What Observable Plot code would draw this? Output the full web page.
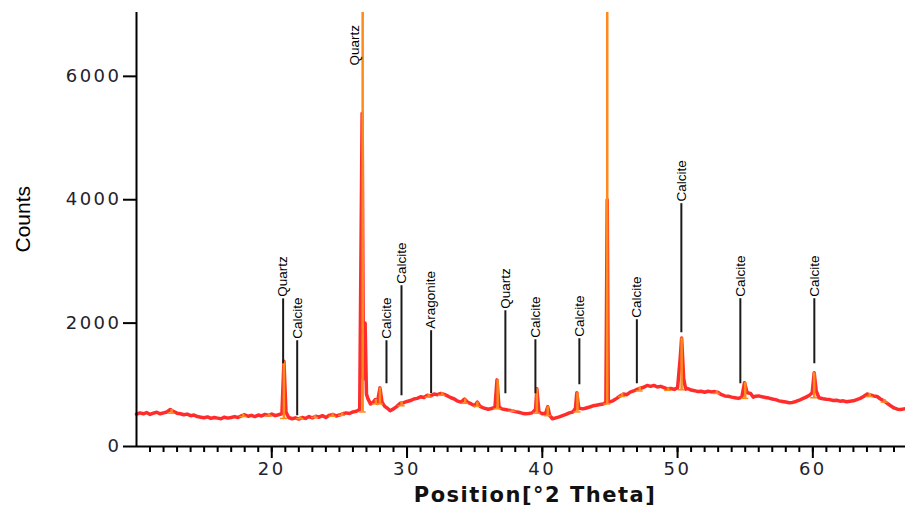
<!DOCTYPE html>
<html><head><meta charset="utf-8">
<script src="https://cdn.jsdelivr.net/npm/d3@7"></script>
<script src="https://cdn.jsdelivr.net/npm/@observablehq/plot@0.6"></script>
<style>html,body{margin:0;padding:0;background:#fff;} #chart{width:905px;height:514px;}</style>
</head><body><div id="chart"></div>
<script>
// Measured scan: [2θ, counts]
const scan = [
[10,525],[10.25,545],[10.5,530],[10.75,550],[11,520],[11.25,540],[11.5,555],[11.75,530],[12,545],[12.25,560],
[12.5,600],[12.75,565],[13,540],[13.25,530],[13.5,515],[13.75,525],[14,500],[14.25,510],[14.5,485],[14.75,475],
[15,465],[15.25,480],[15.5,455],[15.75,470],[16,460],[16.25,450],[16.5,475],[16.75,460],[17,470],[17.25,485],
[17.5,470],[17.75,495],[18,515],[18.25,490],[18.5,505],[18.75,485],[19,510],[19.25,495],[19.5,520],[19.75,505],
[20,525],[20.25,500],[20.5,515],[20.75,530],[20.9,1380],[21.05,560],[21.25,470],[21.5,450],[21.75,465],[22,445],
[22.25,470],[22.5,455],[22.75,485],[23,465],[23.25,490],[23.5,475],[23.75,500],[24,470],[24.25,505],[24.5,520],
[24.75,495],[25,510],[25.25,530],[25.5,545],[25.75,535],[26,560],[26.25,570],[26.5,600],[26.68,5400],[26.78,1100],
[26.9,2000],[27,850],[27.1,780],[27.3,690],[27.5,720],[27.65,760],[27.8,700],[28,950],[28.15,720],[28.35,650],
[28.55,620],[28.75,580],[29,610],[29.25,650],[29.5,700],[29.75,710],[30,730],[30.25,745],[30.5,770],[30.75,780],
[31,805],[31.25,795],[31.5,830],[31.75,820],[32,850],[32.25,840],[32.5,860],[32.75,845],[33,820],[33.25,790],
[33.5,770],[33.75,735],[34,720],[34.25,770],[34.5,715],[34.75,690],[35,660],[35.2,720],[35.4,650],[35.6,630],
[35.8,615],[36,605],[36.25,615],[36.5,640],[36.65,1080],[36.8,640],[37,610],[37.25,600],[37.5,590],[37.75,580],
[38,565],[38.25,555],[38.5,540],[38.75,530],[39,535],[39.25,545],[39.5,600],[39.6,935],[39.75,560],[40,530],
[40.25,540],[40.4,645],[40.55,500],[40.75,450],[41,465],[41.25,480],[41.5,500],[41.75,520],[42,545],[42.25,560],
[42.45,620],[42.55,870],[42.7,620],[43,610],[43.25,625],[43.5,640],[43.75,660],[44,670],[44.25,680],[44.5,690],
[44.7,710],[44.8,4000],[44.88,720],[45,725],[45.25,745],[45.5,780],[45.75,820],[46,850],[46.25,840],[46.5,880],
[46.75,900],[47,925],[47.25,945],[47.5,960],[47.75,990],[48,975],[48.25,990],[48.5,965],[48.75,975],[49,955],
[49.25,935],[49.5,940],[49.75,925],[50,950],[50.2,1450],[50.3,1760],[50.45,1100],[50.6,930],[50.75,940],[51,915],
[51.25,905],[51.5,890],[51.75,895],[52,880],[52.25,895],[52.5,885],[52.75,890],[53,875],[53.25,840],[53.5,820],
[53.75,815],[54,800],[54.25,790],[54.5,780],[54.75,800],[54.95,1035],[55.15,870],[55.4,860],[55.6,800],[55.75,815],
[56,820],[56.25,805],[56.5,795],[56.75,785],[57,770],[57.25,760],[57.5,740],[57.75,730],[58,720],[58.25,710],
[58.5,715],[58.75,730],[59,750],[59.25,775],[59.5,800],[59.75,830],[59.95,870],[60.1,1195],[60.25,900],[60.45,790],
[60.75,775],[61,765],[61.25,760],[61.5,745],[61.75,750],[62,735],[62.25,740],[62.5,725],[62.75,735],[63,740],
[63.25,760],[63.5,780],[63.75,810],[64,850],[64.25,835],[64.5,820],[64.75,810],[65,770],[65.25,740],[65.5,700],
[65.75,660],[66,625],[66.25,605],[66.5,600],[66.75,610]
];

// Reference peak list (orange sticks)
const orangeTheta = [12.6,17.9,19.8,20.9,22.1,23.2,24.5,25.2,26.72,27.7,28.0,29.6,31.6,32.6,34.3,35.2,36.7,37.8,39.6,40.4,42.6,44.8,45.9,47.2,49.3,50.3,52.9,55.0,60.1,64.2,65.3];
const orangeBase  = [540,485,495,455,450,470,490,505,560,690,690,660,800,830,700,650,610,570,540,500,560,690,810,900,910,920,860,780,790,810,720];
const orangeTop   = [600,520,525,1380,480,500,530,545,7500,760,950,720,840,870,770,720,1080,600,935,645,870,7500,860,960,950,1760,890,1035,1195,860,760];

// Phase annotations
const annTheta = [20.84,21.88,28.48,29.59,31.78,37.27,39.49,42.74,46.99,50.28,54.64,60.11];
const annLabel = ["Quartz","Calcite","Calcite","Calcite","Aragonite","Quartz","Calcite","Calcite","Calcite","Calcite","Calcite","Calcite"];
const annLow   = [1341,498,1017,822,855,855,855,1001,1017,1844,1017,1341];
const annHigh  = [2393,1714,1714,2606,1877,2200,1730,1747,2055,3937,2396,2396];

const mainLabel = {t: 26.15, c: 6175, label: "Quartz"};

const yTicks = [0, 2000, 4000, 6000];
const xMajor = [20, 30, 40, 50, 60];
const xMinor = d3.range(11, 67);
const xLabel = "Position[°2 Theta]";
const yLabel = "Counts";

const scanData = scan.map(([t, c]) => ({t, c}));
const orange = orangeTheta.map((t, i) => ({t, base: orangeBase[i], top: orangeTop[i]}));
const ann = annTheta.map((t, i) => ({t, label: annLabel[i], low: annLow[i], high: annHigh[i]}));

const annFont = "'Liberation Sans', Arial, sans-serif";
const tickFont = "'DejaVu Sans', Verdana, sans-serif";

const chart = Plot.plot({
  width: 905, height: 514,
  marginLeft: 136, marginRight: 0, marginTop: 12, marginBottom: 68,
  x: {domain: [10, 66.85]},
  y: {domain: [0, 7035]},
  style: {background: "#fff", overflow: "visible"},
  marks: [
    Plot.line(scanData, {x: "t", y: "c", stroke: "#ff1a1a", strokeWidth: 3.5, strokeLinejoin: "round", strokeOpacity: 0.92}),
    Plot.ruleX(orange, {x: "t", y1: "base", y2: "top", stroke: "#ff8a1c", strokeWidth: 2.5, clip: true}),
    Plot.ruleY(orange, {y: "base", x1: d => d.t - 0.26, x2: d => d.t + 0.26, stroke: "#ff8a1c", strokeWidth: 1.5}),
    Plot.ruleX(ann, {x: "t", y1: "low", y2: "high", stroke: "#1a1a1a", strokeWidth: 2}),
    Plot.text(ann, {x: "t", y: "high", text: "label", rotate: -90, textAnchor: "start", dy: -2, fontSize: 13.5, fontFamily: annFont, fill: "#000"}),
    Plot.text([mainLabel], {x: "t", y: "c", text: "label", rotate: -90, textAnchor: "start", fontSize: 13.5, fontFamily: annFont, fill: "#000"}),
    Plot.ruleX([10], {y1: 0, y2: 7035, stroke: "#000", strokeWidth: 2}),
    Plot.ruleY([0], {stroke: "#000", strokeWidth: 2}),
    Plot.axisY({ticks: yTicks, tickFormat: d => String(d), tickSize: 13, tickPadding: 2, label: null, fontSize: 18, fontFamily: tickFont, fill: "#22222e", stroke: "#000", strokeWidth: 2}),
    Plot.axisX({ticks: xMajor, tickFormat: d => String(d), tickSize: 12, tickPadding: 4, label: null, fontSize: 18, fontFamily: tickFont, fill: "#22222e", stroke: "#000", strokeWidth: 2}),
    Plot.axisX({ticks: xMinor, tickSize: 6, tickFormat: () => "", label: null, stroke: "#000", strokeWidth: 2}),
    Plot.text([yLabel], {text: d => d, frameAnchor: "left", rotate: -90, dx: -113, dy: 23, fontSize: 21, fontFamily: annFont, fill: "#000"}),
    Plot.text([xLabel], {text: d => d, frameAnchor: "bottom", dx: 14, dy: 55, fontSize: 21, fontWeight: "bold", fontFamily: tickFont, fill: "#111"})
  ]
});

document.getElementById("chart").appendChild(chart);
d3.select(chart).selectAll('g[aria-label="y-axis tick label"] text, g[aria-label="x-axis tick label"] text').style("letter-spacing", "2.5px");
d3.select(chart).selectAll("text").filter(function() { return this.textContent === xLabel; }).style("letter-spacing", "1.5px");
</script>
</body></html>
